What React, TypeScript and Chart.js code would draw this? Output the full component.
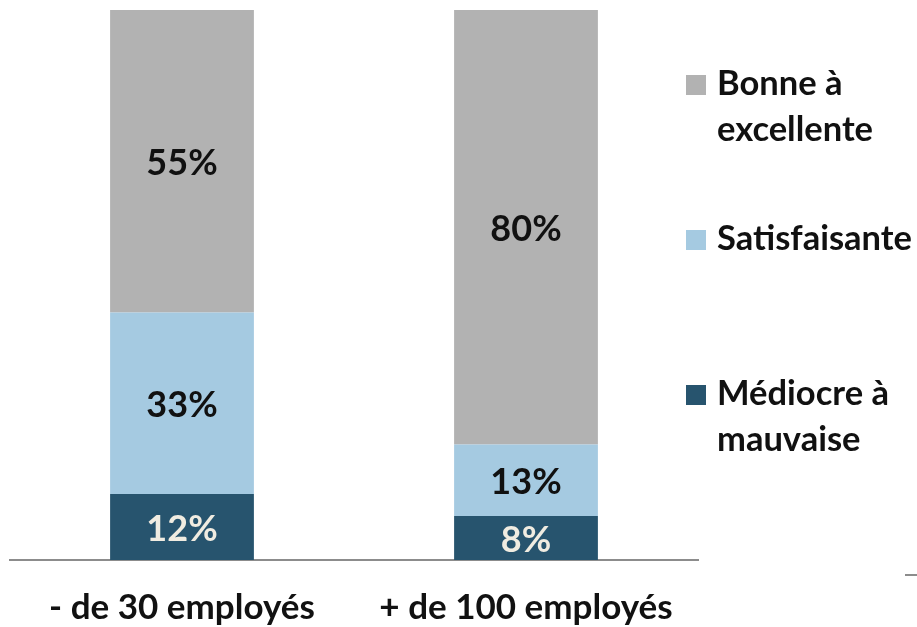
import React, { useEffect, useRef } from "react";
import { Chart, registerables } from "chart.js";

Chart.register(...registerables);

const categories = ["- de 30 employés", "+ de 100 employés"];
const seriesNames = ["Médiocre à mauvaise", "Satisfaisante", "Bonne à excellente"];
const legendLines = [["Médiocre à", "mauvaise"], ["Satisfaisante"], ["Bonne à", "excellente"]];
const mediocreValues = [12, 8];
const satisfaisanteValues = [33, 13];
const bonneValues = [55, 80];
const seriesColors = ["#27546e", "#a5cae1", "#b2b2b2"];
const labelColors = ["#f0ece1", "#111111", "#111111"];

const FONT = "Lato, 'Open Sans', sans-serif";

const labelPlugin = {
  id: "segmentLabels",
  afterDatasetsDraw(chart: any) {
    const { ctx, chartArea } = chart;
    ctx.save();
    ctx.font = `bold 36px ${FONT}`;
    ctx.textAlign = "center";
    ctx.textBaseline = "middle";
    chart.data.datasets.forEach((ds: any, di: number) => {
      const meta = chart.getDatasetMeta(di);
      meta.data.forEach((bar: any, i: number) => {
        const top = Math.max(bar.y, chartArea.top);
        const cy = (top + bar.base) / 2;
        ctx.fillStyle = labelColors[di];
        ctx.fillText(`${ds.data[i]}%`, bar.x, cy + 2);
      });
    });
    ctx.restore();
  },
};

const legendPlugin = {
  id: "sideLegend",
  afterDraw(chart: any) {
    const { ctx, chartArea } = chart;
    ctx.save();
    const boxX = chartArea.right - 12;
    const textX = boxX + 31;
    const step = 155;
    const lineH = 46;
    ctx.font = `bold 34.5px ${FONT}`;
    ctx.textBaseline = "alphabetic";
    ctx.textAlign = "left";
    const order = [2, 1, 0];
    order.forEach((di, k) => {
      const baseY = chartArea.top + 85 + k * step;
      ctx.fillStyle = seriesColors[di];
      ctx.fillRect(boxX, baseY - 20, 20, 20);
      ctx.fillStyle = "#111111";
      legendLines[di].forEach((line, li) => {
        ctx.fillText(line, textX, baseY + li * lineH);
      });
    });
    ctx.strokeStyle = "#8c8c8c";
    ctx.lineWidth = 2;
    ctx.beginPath();
    ctx.moveTo(905, chartArea.bottom + 15);
    ctx.lineTo(917, chartArea.bottom + 15);
    ctx.stroke();
    ctx.restore();
  },
};

export default function App() {
  const canvasRef = useRef<HTMLCanvasElement>(null);

  useEffect(() => {
    if (!canvasRef.current) return;
    const allValues = [mediocreValues, satisfaisanteValues, bonneValues];
    const chart = new Chart(canvasRef.current, {
      type: "bar",
      data: {
        labels: categories,
        datasets: seriesNames.map((name, i) => ({
          label: name,
          data: allValues[i],
          backgroundColor: seriesColors[i],
          borderWidth: 0,
          barPercentage: 0.418,
          categoryPercentage: 1,
        })),
      },
      options: {
        animation: false,
        responsive: true,
        maintainAspectRatio: false,
        layout: { padding: { left: 10, top: 10, right: 219, bottom: -29 } },
        plugins: {
          legend: { display: false },
          tooltip: { enabled: false },
        },
        scales: {
          x: {
            stacked: true,
            grid: { display: false, drawTicks: false },
            border: { display: true, color: "#8c8c8c", width: 2 },
            ticks: {
              color: "#111111",
              padding: 27,
              font: { family: FONT, size: 35, weight: "bold" },
            },
          },
          y: {
            stacked: true,
            display: false,
            min: 0,
            max: 100,
          },
        },
      },
      plugins: [labelPlugin, legendPlugin],
    });
    return () => chart.destroy();
  }, []);

  return (
    <div style={{ position: "absolute", left: 0, top: 0, width: 917, height: 627, background: "#ffffff" }}>
      <canvas ref={canvasRef} />
    </div>
  );
}
